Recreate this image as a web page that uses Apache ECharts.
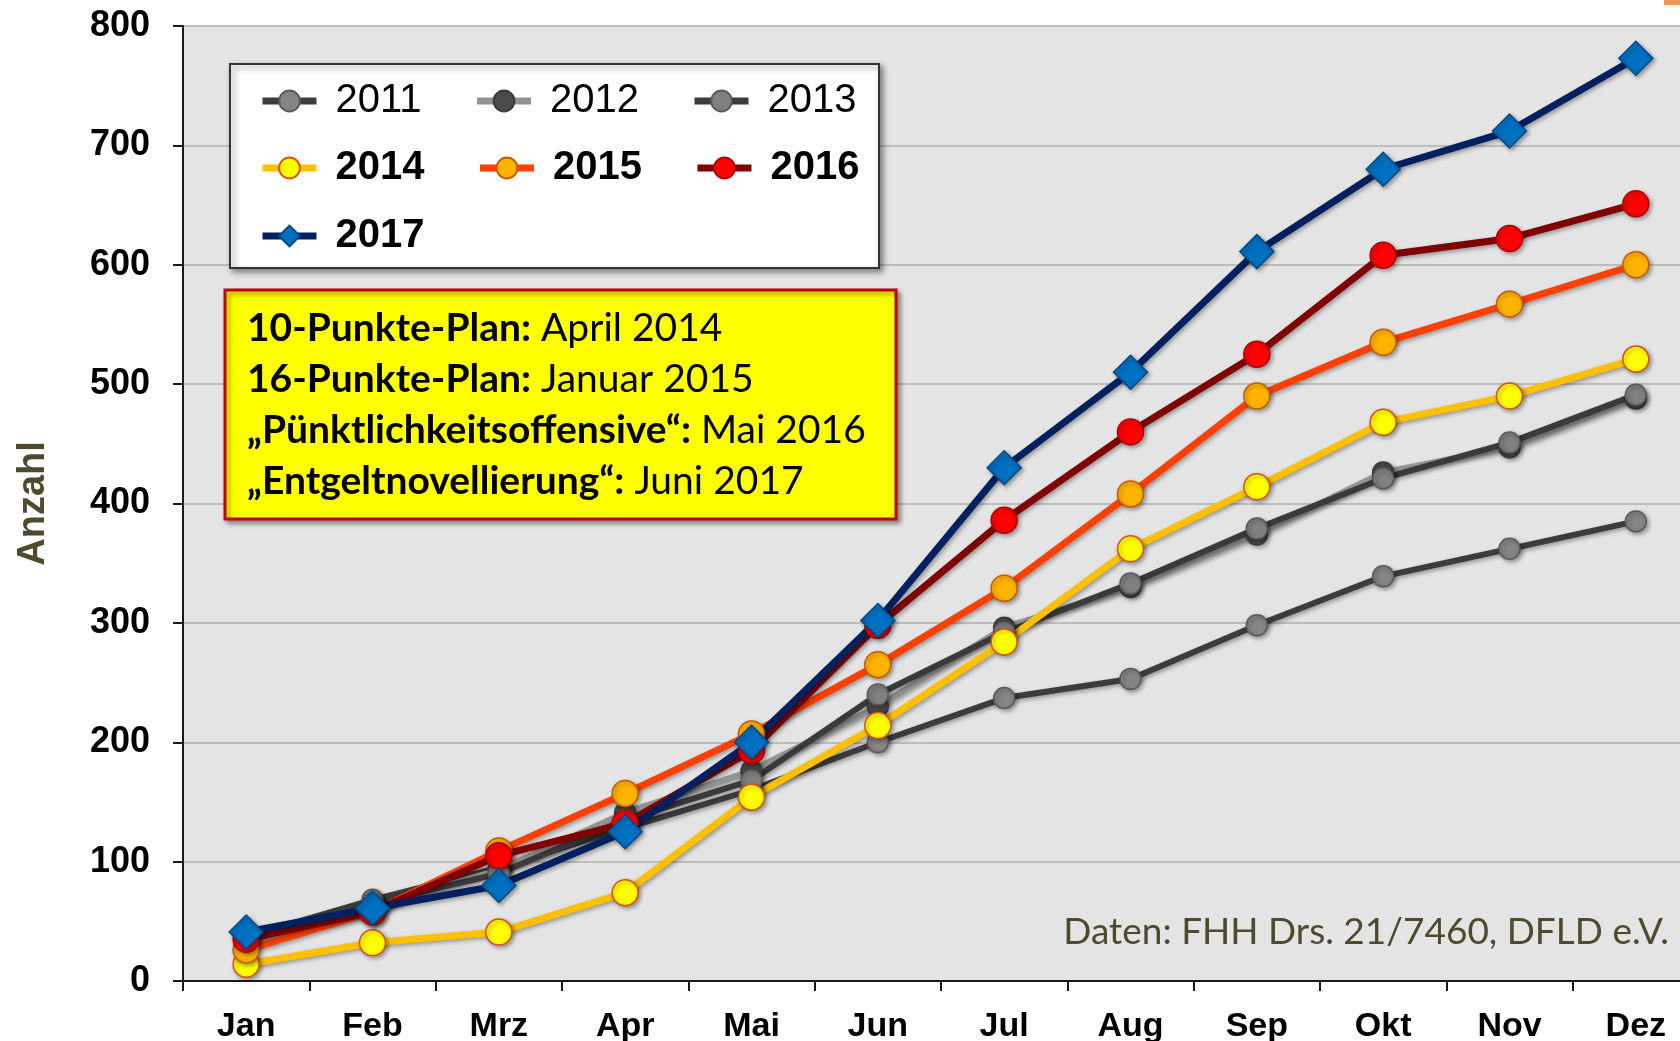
<!DOCTYPE html>
<html>
<head>
<meta charset="utf-8">
<script src="https://cdn.jsdelivr.net/npm/echarts@6/dist/echarts.min.js"></script>
<style>
html,body{margin:0;padding:0;background:#fff;}
#main{width:1680px;height:1041px;}
</style>
</head>
<body>
<div id="main"></div>
<script>
var months = ['Jan','Feb','Mrz','Apr','Mai','Jun','Jul','Aug','Sep','Okt','Nov','Dez'];
var yTicks = [0,100,200,300,400,500,600,700,800];
var d2011 = [37,68,95,128,160,200,237,253,298,339,362,385];
var d2012 = [35,62,93,141,176,230,296,330,374,426,447,488];
var d2013 = [36,65,90,135,168,240,292,333,379,421,451,491];
var d2014 = [14,32,41,74,154,214,284,362,414,468,490,521];
var d2015 = [26,58,109,157,207,265,329,408,490,535,567,600];
var d2016 = [35,58,105,132,193,298,386,460,525,608,622,651];
var d2017 = [41,61,80,125,200,302,430,510,611,680,712,773];

var notes = [
	['10-Punkte-Plan:', 'April 2014'],
	['16-Punkte-Plan:', 'Januar 2015'],
	['„Pünktlichkeitsoffensive“:', 'Mai 2016'],
	['„Entgeltnovellierung“:', 'Juni 2017']
];
var source = 'Daten: FHH Drs. 21/7460, DFLD e.V.';

var myChart = echarts.init(document.getElementById('main'));

// eine Linie mit Schatten
function mk(name, data, lineColor, markColor, markBorder, symbol, size, width){
	return {
		name: name,
		type: 'line',
		data: data,
		symbol: symbol,
		symbolSize: size,
		showAllSymbol: true,
		animation: false,
		lineStyle: {
			color: lineColor,
			width: width,
			shadowColor: 'rgba(0,0,0,0.35)',
			shadowBlur: 4,
			shadowOffsetX: 2,
			shadowOffsetY: 2
		},
		itemStyle: {
			color: markColor,
			borderColor: markBorder,
			borderWidth: 1.5,
			shadowColor: 'rgba(0,0,0,0.35)',
			shadowBlur: 4,
			shadowOffsetX: 2,
			shadowOffsetY: 2
		}
	};
}

var legendFont = "'Liberation Sans',Arial,sans-serif";
function legendRow(names, top, bold){
	return {
		data: names,
		left: 259,
		top: top,
		padding: 0,
		orient: 'horizontal',
		itemWidth: 54,
		itemHeight: 26,
		itemGap: 52,
		z: 10,
		selectedMode: false,
		lineStyle: {width: 7},
		textStyle: {
			fontFamily: legendFont,
			fontSize: 40,
			fontWeight: bold ? 'bold' : 'normal',
			color: '#000',
			padding: [0,0,0,14]
		}
	};
}

var noteText = notes.map(function(n){
	return '{b|' + n[0] + '} {n|' + n[1] + '}';
}).join('\n');

var option = {
	backgroundColor: '#fff',
	animation: false,
	grid: {
		left: 183,
		top: 26,
		right: -19,
		bottom: 60,
		outerBoundsMode: 'none',
		containLabel: false,
		show: true,
		backgroundColor: '#E4E4E4',
		borderColor: '#1a1a1a',
		borderWidth: 2
	},
	legend: [
		legendRow(['2011','2012','2013'], 81, false),
		legendRow(['2014','2015','2016'], 148, true),
		legendRow(['2017'], 216, true)
	],
	xAxis: {
		type: 'category',
		data: months,
		boundaryGap: true,
		axisLine: {lineStyle: {color: '#1a1a1a', width: 2}},
		axisTick: {show: true, length: 10, lineStyle: {color: '#1a1a1a', width: 2}},
		axisLabel: {
			margin: 29,
			fontFamily: "'Liberation Sans',Arial,sans-serif",
			fontWeight: 'bold',
			fontSize: 34,
			color: '#000'
		},
		splitLine: {show: false}
	},
	yAxis: {
		type: 'value',
		min: 0,
		max: 800,
		interval: 100,
		name: 'Anzahl',
		nameLocation: 'middle',
		nameRotate: 90,
		nameGap: 130,
		nameTextStyle: {
			fontFamily: "'Liberation Sans',Arial,sans-serif",
			fontWeight: 'bold',
			fontSize: 38,
			color: '#4F4A2E'
		},
		axisLine: {show: true, lineStyle: {color: '#1a1a1a', width: 2}},
		axisTick: {show: true, length: 10, lineStyle: {color: '#1a1a1a', width: 2}},
		axisLabel: {
			margin: 33,
			fontFamily: "'Liberation Sans',Arial,sans-serif",
			fontWeight: 'bold',
			fontSize: 36,
			color: '#000',
			formatter: function(v){ return yTicks.indexOf(v) >= 0 ? String(v) : ''; }
		},
		splitLine: {lineStyle: {color: '#BDBDBD', width: 2}}
	},
	graphic: [
		{
			type: 'rect',
			z: 5,
			shape: {x: 230, y: 64, width: 649, height: 204},
			style: {
				fill: '#fff', stroke: '#333', lineWidth: 2,
				shadowColor: 'rgba(0,0,0,0.45)', shadowBlur: 6, shadowOffsetX: 3, shadowOffsetY: 3
			}
		},
		{
			type: 'rect',
			z: 5,
			shape: {x: 225, y: 290, width: 671, height: 229},
			style: {
				fill: '#FFFF00', stroke: '#C00000', lineWidth: 3,
				shadowColor: 'rgba(0,0,0,0.4)', shadowBlur: 5, shadowOffsetX: 3, shadowOffsetY: 3
			}
		},
		{
			type: 'text',
			z: 6,
			x: 247,
			y: 303,
			style: {
				text: noteText,
				fill: '#000',
				font: "39px Lato, 'Open Sans', sans-serif",
				lineHeight: 51,
				verticalAlign: 'top',
				rich: {
					b: {fontFamily: "Lato,'Open Sans',sans-serif", fontSize: 39, fontWeight: 'bold', lineHeight: 51, fill: '#000'},
					n: {fontFamily: "Lato,'Open Sans',sans-serif", fontSize: 39, fontWeight: 'normal', lineHeight: 51, fill: '#000'}
				}
			}
		},
		{
			type: 'text',
			z: 6,
			x: 1669,
			y: 932,
			style: {
				text: source,
				fill: '#4F4A2E',
				font: "37px Lato, 'Open Sans', sans-serif",
				align: 'right',
				verticalAlign: 'middle'
			}
		},
		{
			type: 'rect',
			z: 6,
			shape: {x: 1664, y: 0, width: 16, height: 5},
			style: {fill: '#F0955A'}
		}
	],
	series: [
		mk('2011', d2011, '#3c3c3c', '#858585', '#5a5a5a', 'circle', 21, 6),
		mk('2012', d2012, '#939393', '#4a4a4a', '#3a3a3a', 'circle', 21, 6),
		mk('2013', d2013, '#3a3a3a', '#808080', '#5a5a5a', 'circle', 21, 6),
		mk('2014', d2014, '#FFC000', '#FFFF00', '#D8531A', 'circle', 26, 7),
		mk('2015', d2015, '#FF4000', '#FFB400', '#C85A00', 'circle', 26, 7),
		mk('2016', d2016, '#800000', '#FF0000', '#B00000', 'circle', 26, 7),
		mk('2017', d2017, '#002060', '#0070C0', '#004A8C', 'diamond', 34, 7)
	]
};
myChart.setOption(option);
</script>
</body>
</html>
